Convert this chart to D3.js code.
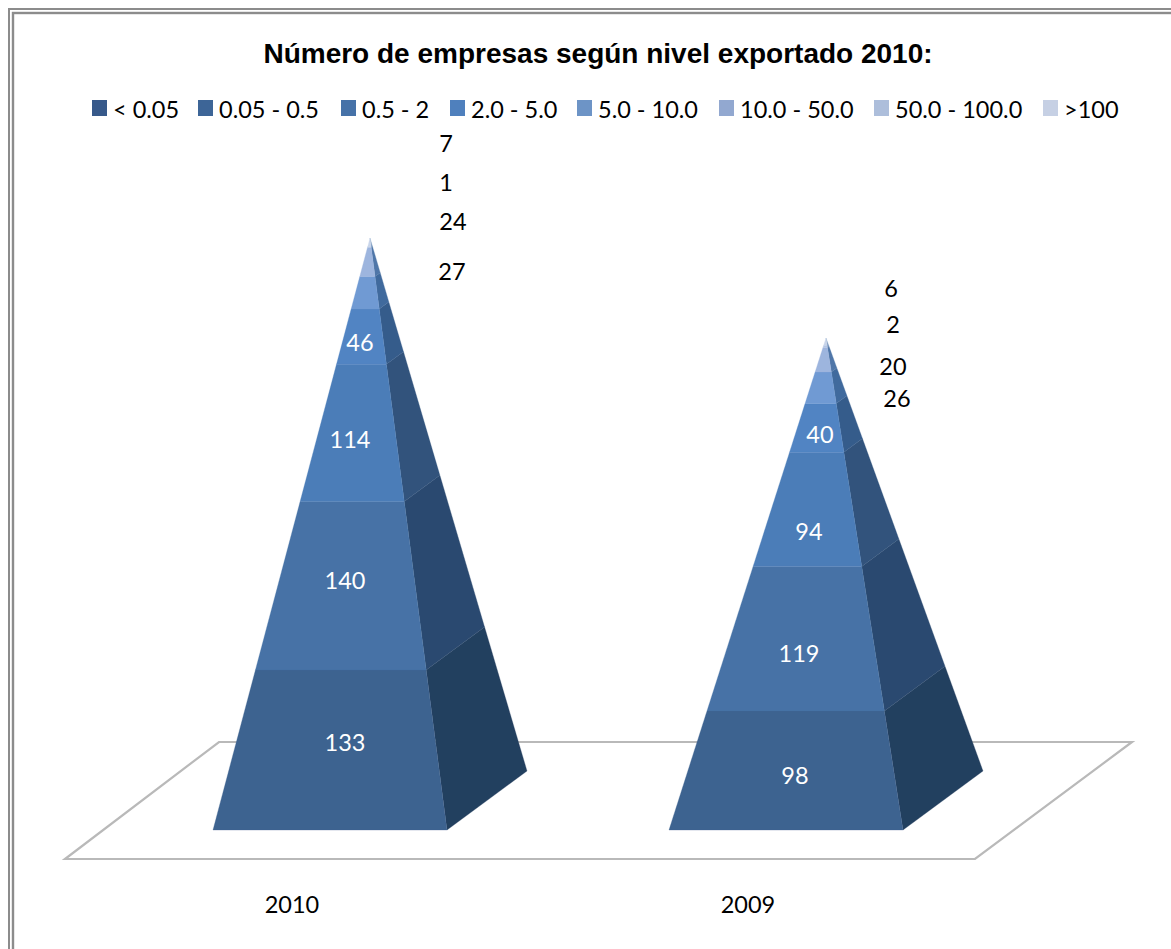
<!DOCTYPE html>
<html><head><meta charset="utf-8">
<script src="https://cdn.jsdelivr.net/npm/d3@7"></script>
<style>html,body{margin:0;padding:0;background:#fff;overflow:hidden}</style>
</head><body><svg id="c" width="1171" height="949" xmlns="http://www.w3.org/2000/svg"></svg>
<script>
const chartTitle = "Número de empresas según nivel exportado 2010:";
const categories = ["2010", "2009"];
const seriesNames = ["< 0.05", "0.05 - 0.5", "0.5 - 2", "2.0 - 5.0", "5.0 - 10.0", "10.0 - 50.0", "50.0 - 100.0", ">100"];
const values2010 = [133, 140, 114, 46, 27, 24, 1, 7];
const values2009 = [98, 119, 94, 40, 26, 20, 2, 6];

// styling / layout, separate from the data
const legendColors = ["#37598a", "#3d6597", "#4672a8", "#4f80bd", "#6d94c6", "#92a8d0", "#adbedb", "#c6d0e4"];
const frontColors = ["#3e6390", "#4672a6", "#4c7db8", "#5184c3", "#6f9ad3", "#9db5de", "#b3c5e4", "#c9d5ea"];
const sideColors = ["#243f5f", "#2b4a70", "#30527c", "#365c8b", "#416b9d", "#4f76a8", "#6a8ab5", "#7f9bc0"];
const legendX = [92, 198, 341, 450, 577, 719, 874, 1043];
const layout = {
  "2010": {apexY: 238, labels: [[345,742],[345,580],[350,439],[360,342],[452,271],[453,221],[446,182],[446,143]], catX: 292},
  "2009": {apexY: 338, labels: [[795,775],[799,653],[809,531],[820,434],[897,398],[893,366],[893,324],[891,288]], catX: 748}
};
const byCategory = {"2010": values2010, "2009": values2009};
const baseY = 830, halfW = 117, depthX = 80, depthY = 59;
const labelFont = "Lato, 'Open Sans', sans-serif";
const labelSize = 23.5;

const svg = d3.select("#c");
const defs = svg.append("defs");
defs.append("filter").attr("id","soft").attr("x","-5%").attr("y","-5%").attr("width","110%").attr("height","110%")
  .append("feGaussianBlur").attr("stdDeviation",0.6);

// frame
svg.append("rect").attr("x",9).attr("y",9).attr("width",1300).attr("height",1100).attr("fill","none").attr("stroke","#8c8c8c").attr("stroke-width",2);
svg.append("rect").attr("x",13).attr("y",13).attr("width",1300).attr("height",1100).attr("fill","none").attr("stroke","#8c8c8c").attr("stroke-width",2.4);

// title
svg.append("text").attr("x",598).attr("y",63).attr("text-anchor","middle")
  .attr("font-family","'Liberation Sans', Arial, sans-serif").attr("font-weight","bold").attr("font-size",28).attr("fill","#000").text(chartTitle);

// legend
const lg = svg.append("g");
seriesNames.forEach((s,i)=>{
  lg.append("rect").attr("x",legendX[i]).attr("y",100).attr("width",15).attr("height",16).attr("fill",legendColors[i]);
  lg.append("text").attr("x",legendX[i]+21).attr("y",118).attr("font-family",labelFont).attr("font-size",labelSize).attr("fill","#000").text(s);
});

// floor
const floorPath = d3.line();
svg.append("path").attr("d",floorPath([[65,859],[975,859],[1132,742],[219,742]])+"Z")
  .attr("fill","#fff").attr("stroke","#b9b9b9").attr("stroke-width",2.2).attr("stroke-linejoin","miter");

// pyramids
const x = d3.scalePoint().domain(categories).range([330,786]);
const poly = d3.line();
categories.forEach(cat=>{
  const vals = byCategory[cat];
  const total = d3.sum(vals);
  const L = layout[cat];
  const y = d3.scaleLinear().domain([0,total]).range([baseY,L.apexY]);
  const cx = x(cat);
  const apexX = cx + depthX/2;
  const t = d3.scaleLinear().domain([0,total]).range([0,1]);
  const lerp = (a,b,u)=>a+(b-a)*u;
  const g = svg.append("g").attr("filter","url(#soft)");
  const stacks = d3.cumsum(vals);
  vals.forEach((v,i)=>{
    const c0 = i? stacks[i-1]:0, c1 = stacks[i];
    const u0=t(c0), u1=t(c1);
    const fl = u=>[lerp(cx-halfW,apexX,u), y(total*u)];
    const fr = u=>[lerp(cx+halfW,apexX,u), y(total*u)];
    const br = u=>[lerp(cx+halfW+depthX,apexX,u), lerp(baseY-depthY,L.apexY,u)];
    g.append("path").attr("d",poly([fr(u0),br(u0),br(u1),fr(u1)])+"Z").attr("fill",sideColors[i]).attr("stroke",sideColors[i]).attr("stroke-width",0.3);
    g.append("path").attr("d",poly([fl(u0),fr(u0),fr(u1),fl(u1)])+"Z").attr("fill",frontColors[i]).attr("stroke",frontColors[i]).attr("stroke-width",0.3);
  });
  vals.forEach((v,i)=>{
    svg.append("text").attr("x",L.labels[i][0]).attr("y",L.labels[i][1]+8.5).attr("text-anchor","middle")
      .attr("font-family",labelFont).attr("font-size",labelSize).attr("fill",i<4?"#fff":"#000").text(v);
  });
  svg.append("text").attr("x",L.catX).attr("y",912.5).attr("text-anchor","middle")
    .attr("font-family",labelFont).attr("font-size",labelSize).attr("fill","#000").text(cat);
});
</script></body></html>
